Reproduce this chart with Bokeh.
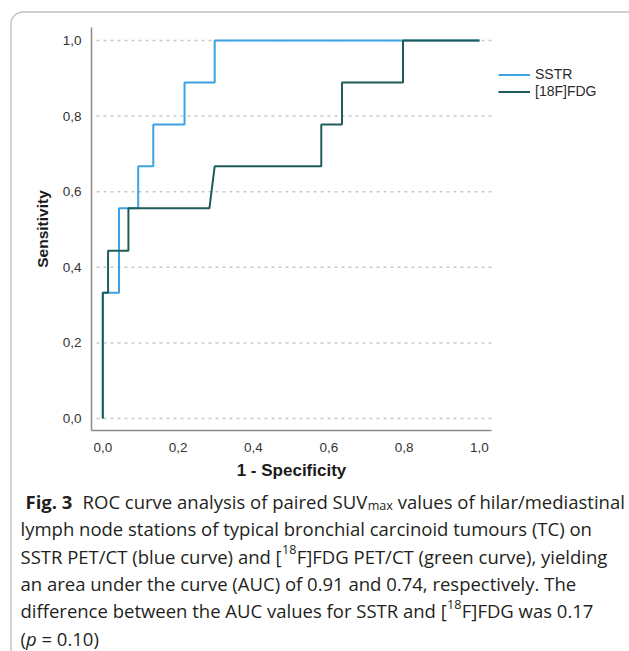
import os
import subprocess

from bokeh.plotting import figure
from bokeh.models import Range1d, FixedTicker, Label, Legend, LegendItem, BoxAnnotation
from bokeh.embed import file_html
from bokeh.resources import INLINE

# ---------------- data ----------------
sstr_fpr = [0.0, 0.0, 0.043, 0.043, 0.094, 0.094, 0.134, 0.134, 0.217, 0.217, 0.297, 0.297, 1.0]
sstr_tpr = [0.0, 0.333, 0.333, 0.556, 0.556, 0.667, 0.667, 0.778, 0.778, 0.889, 0.889, 1.0, 1.0]
fdg_fpr = [0.0, 0.0, 0.014, 0.014, 0.068, 0.068, 0.283, 0.297, 0.58, 0.58, 0.635, 0.635, 0.797, 0.797, 1.0]
fdg_tpr = [0.0, 0.333, 0.333, 0.444, 0.444, 0.556, 0.556, 0.667, 0.667, 0.778, 0.778, 0.889, 0.889, 1.0, 1.0]
series_names = ["SSTR", "[18F]FDG"]
tick_values = [0.0, 0.2, 0.4, 0.6, 0.8, 1.0]
tick_labels = ["0,0", "0,2", "0,4", "0,6", "0,8", "1,0"]
x_title = "1 - Specificity"
y_title = "Sensitivity"
caption_fig = "Fig. 3"
caption_l1 = ["ROC curve analysis of paired SUV", "max", "values of hilar/mediastinal"]
caption_l2 = "lymph node stations of typical bronchial carcinoid tumours (TC) on"
caption_l3 = ["SSTR PET/CT (blue curve) and [", "18", "F]FDG PET/CT (green curve), yielding"]
caption_l4 = "an area under the curve (AUC) of 0.91 and 0.74, respectively. The"
caption_l5 = ["difference between the AUC values for SSTR and [", "18", "F]FDG was 0.17"]
caption_l6 = ["(", "p", "= 0.10)"]

BLUE = "#3d a2e0".replace(" ", "")
GREEN = "#1f5c58"
TXT = "#231f20"

# ---------------- layout (page pixels; canvas = whole window) ----------------
W, H = 629, 651
FL, FR, FT, FB = 91, 491, 27, 430   # chart area: axis lines
GRID_X0 = 96
X0PX, X1PX = 102.3, 479.0   # where x=0 and x=1 sit
Y0PX, Y1PX = 418.0, 40.0    # where y=0 and y=1 sit


def dx(px):
    return (px - X0PX) / (X1PX - X0PX)


def dy(py):
    return (Y0PX - py) / (Y0PX - Y1PX)


p = figure(width=W, height=H, x_range=Range1d(dx(0), dx(W)), y_range=Range1d(dy(H), dy(0)),
           output_backend="svg", toolbar_location=None,
           min_border=0, min_border_left=0, min_border_right=0,
           min_border_top=0, min_border_bottom=0)
p.outline_line_color = None
p.background_fill_color = "white"
p.border_fill_color = "white"
p.grid.visible = False

xa, ya = p.xaxis[0], p.yaxis[0]
xa.fixed_location = dy(FB)
ya.fixed_location = dx(FL)
xa.bounds = (dx(FL), dx(FR))
ya.bounds = (dy(FB), dy(FT))

for ax in (xa, ya):
    ax.ticker = FixedTicker(ticks=tick_values)
    ax.major_label_overrides = dict(zip(tick_values, tick_labels))
    ax.major_tick_line_color = None
    ax.minor_tick_line_color = None
    ax.major_tick_out = 0
    ax.major_tick_in = 0
    ax.axis_line_color = "#8a8a8a"
    ax.axis_line_width = 1.5
    ax.major_label_text_font = "Liberation Sans"
    ax.major_label_text_font_size = "13.5px"
    ax.major_label_text_color = "#333333"
    ax.axis_label_text_font = "Liberation Sans"
    ax.axis_label_text_font_style = "bold"
    ax.axis_label_text_color = "#1a1a1a"

xa.axis_label = x_title
ya.axis_label = y_title
xa.axis_label_text_font_size = "17px"
ya.axis_label_text_font_size = "15.5px"
xa.major_label_standoff = 12
ya.major_label_standoff = 10
xa.axis_label_standoff = 6
ya.axis_label_standoff = 9

# horizontal dotted grid lines at the y ticks, limited to the chart area
n = len(tick_values)
p.segment(x0=[dx(GRID_X0)] * n, y0=tick_values, x1=[dx(FR)] * n, y1=tick_values,
          line_color="#c8c8c8", line_dash="3 4", line_width=1.5)

r1 = p.line(sstr_fpr, sstr_tpr, line_color=BLUE, line_width=2)
r2 = p.line(fdg_fpr, fdg_tpr, line_color=GREEN, line_width=2)

legend = Legend(items=[LegendItem(label=series_names[0], renderers=[r1]),
                       LegendItem(label=series_names[1], renderers=[r2])],
                location=(498, H - 99.5))
legend.label_text_font = "Liberation Sans"
legend.label_text_font_size = "14px"
legend.label_text_color = "#2a2a2a"
legend.glyph_width = 32
legend.glyph_height = 17
legend.label_height = 17
legend.label_standoff = 5
legend.spacing = 0
legend.padding = 0
legend.margin = 0
legend.border_line_color = None
legend.background_fill_alpha = 0
p.add_layout(legend)

# ---------------- rounded outer box ----------------
border = BoxAnnotation(left=dx(10.5), right=dx(720), top=dy(11.5), bottom=dy(720),
                       fill_alpha=0, line_color="#333333", line_width=1.4,
                       border_radius=12)
p.add_layout(border)

# ---------------- caption ----------------
def _font_path(pattern):
    try:
        out = subprocess.run(["fc-match", "-f", "%{file}", pattern],
                             capture_output=True, text=True, timeout=10).stdout.strip()
        if out and "opensans" in os.path.basename(out).lower().replace(" ", "").replace("-", ""):
            return out
    except Exception:
        pass
    return None

_FONTS = {}


def _get_font(style):
    if style in _FONTS:
        return _FONTS[style]
    font = None
    try:
        from PIL import ImageFont
        pat = {"regular": "Open Sans:style=Regular", "bold": "Open Sans:style=Bold",
               "italic": "Open Sans:style=Italic"}[style]
        path = _font_path(pat)
        if path:
            font = ImageFont.truetype(path, size=100)
            try:
                names = [nm.decode() if isinstance(nm, bytes) else nm for nm in font.get_variation_names()]
                want = {"regular": "Regular", "bold": "Bold", "italic": "Italic"}[style]
                if want in names:
                    font.set_variation_by_name(want)
            except Exception:
                pass
    except Exception:
        font = None
    _FONTS[style] = font
    return font


def tw(text, size, style="regular"):
    f = _get_font(style)
    if f is not None:
        try:
            return f.getlength(text) * size / 100.0
        except Exception:
            pass
    return len(text) * 0.53 * size * (1.06 if style == "bold" else 1.0)


fs = 17.0
try:
    fs = 17.0 * 587.0 / tw(caption_l2, 17.0)
except Exception:
    fs = 17.0
fs = max(15.0, min(18.5, fs))
small = fs * 0.68
SP = tw(" ", fs)


def lab(px, py, text, size, style="regular"):
    font_style = "normal"
    if style == "bold":
        font_style = "bold"
    elif style == "italic":
        font_style = "italic"
    p.add_layout(Label(x=dx(px), y=dy(py), text=text, text_font="Open Sans",
                       text_font_size=f"{size:.2f}px", text_font_style=font_style,
                       text_color=TXT, text_align="left", text_baseline="alphabetic"))


LX = 20.0
BASE = [501.0 + 27.3 * i for i in range(6)]

# line 1
x = 25.0
lab(x, BASE[0], caption_fig, fs, "bold")
x += tw(caption_fig, fs, "bold") + 0.55 * fs
lab(x, BASE[0], caption_l1[0], fs)
x += tw(caption_l1[0], fs) + 0.5
lab(x, BASE[0] + 4, caption_l1[1], small)
x += tw(caption_l1[1], small) + SP
lab(x, BASE[0], caption_l1[2], fs)

# line 2
lab(LX, BASE[1], caption_l2, fs)

# line 3
x = LX
lab(x, BASE[2], caption_l3[0], fs)
x += tw(caption_l3[0], fs) + 0.3
lab(x, BASE[2] - 6.5, caption_l3[1], small)
x += tw(caption_l3[1], small) + 0.3
lab(x, BASE[2], caption_l3[2], fs)

# line 4
lab(LX, BASE[3], caption_l4, fs)

# line 5
x = LX
lab(x, BASE[4], caption_l5[0], fs)
x += tw(caption_l5[0], fs) + 0.3
lab(x, BASE[4] - 6.5, caption_l5[1], small)
x += tw(caption_l5[1], small) + 0.3
lab(x, BASE[4], caption_l5[2], fs)

# line 6
x = LX
lab(x, BASE[5], caption_l6[0], fs)
x += tw(caption_l6[0], fs)
lab(x, BASE[5], caption_l6[1], fs, "italic")
x += tw(caption_l6[1], fs, "italic") + SP
lab(x, BASE[5], caption_l6[2], fs)

open("out.html", "w").write(file_html(p, INLINE))
